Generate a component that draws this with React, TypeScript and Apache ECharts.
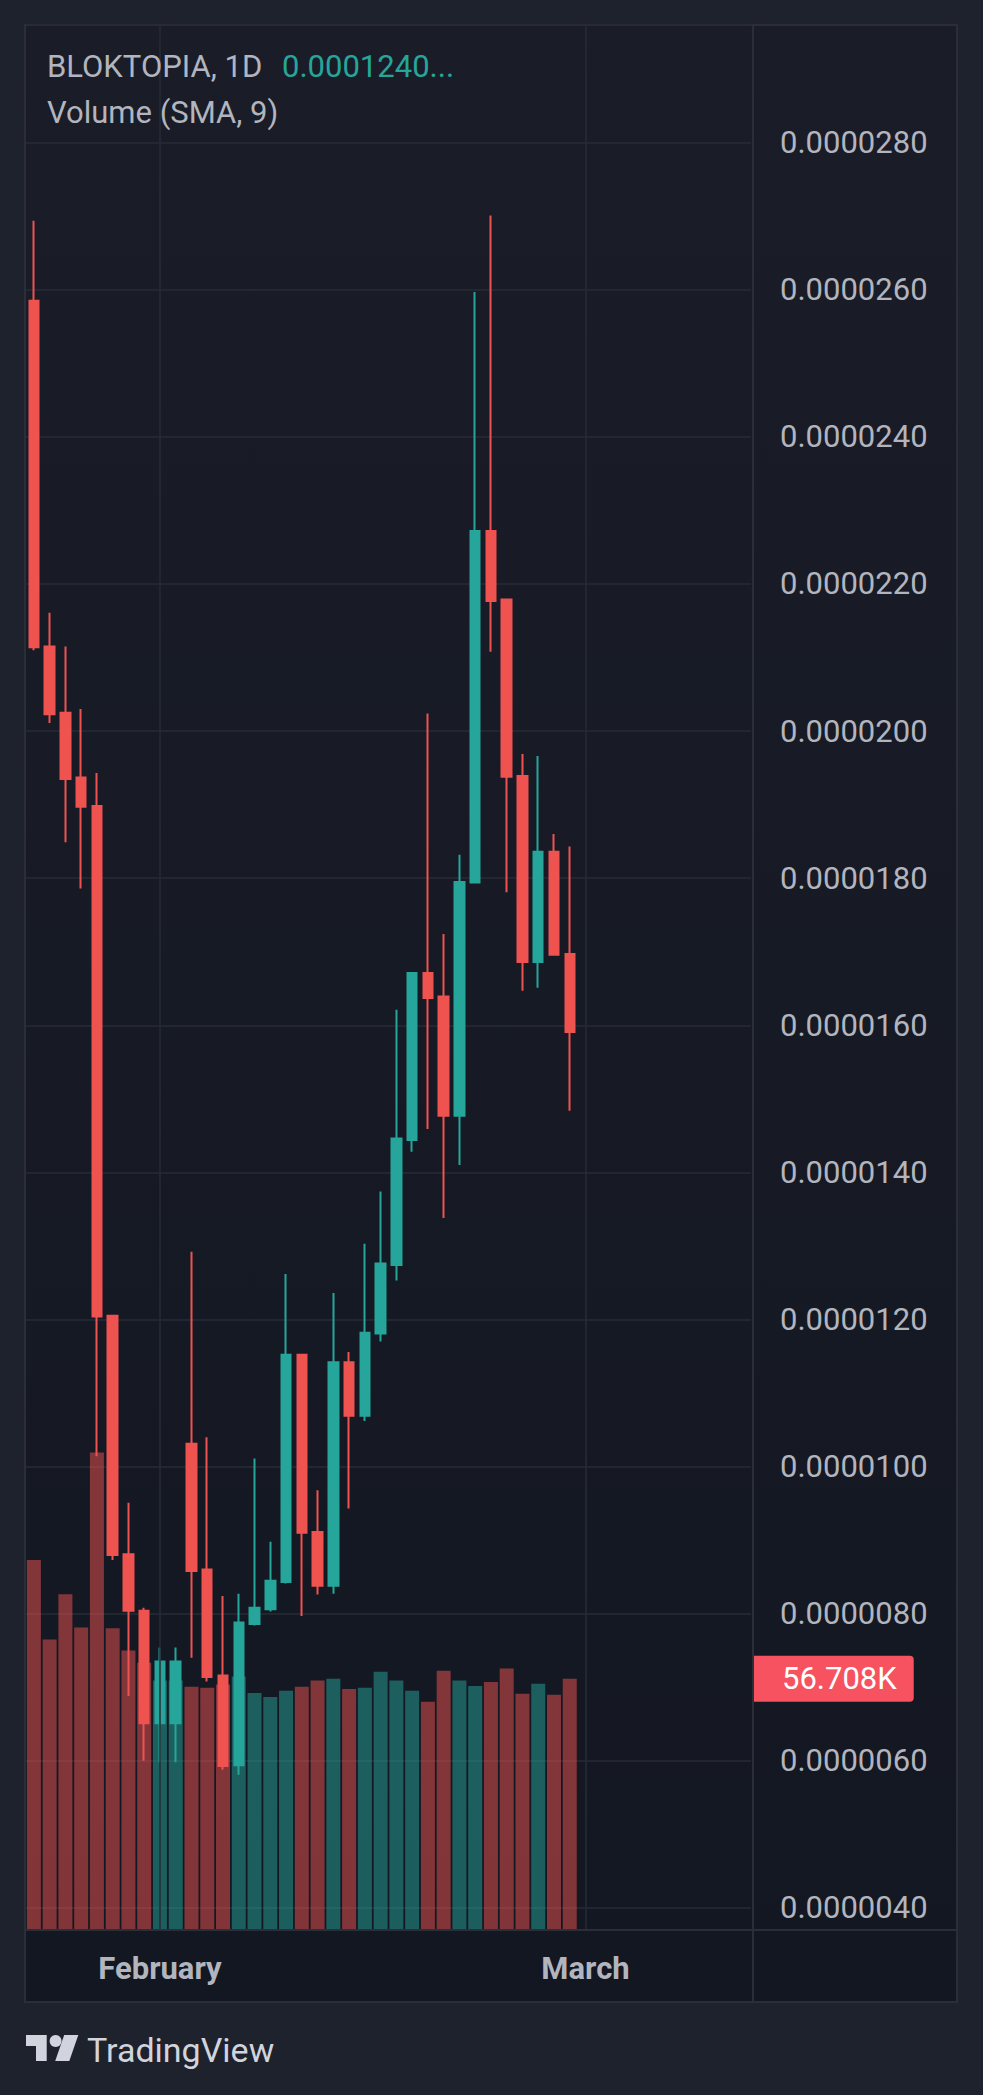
import React, { useEffect, useRef } from "react";
import * as echarts from "echarts";

// Daily candles (BLOKTOPIA, 1D) plus empty future slots on the right
const dates = [
  "Jan 24", "Jan 25", "Jan 26", "Jan 27", "Jan 28", "Jan 29", "Jan 30", "Jan 31",
  "Feb 1", "Feb 2", "Feb 3", "Feb 4", "Feb 5", "Feb 6", "Feb 7", "Feb 8", "Feb 9",
  "Feb 10", "Feb 11", "Feb 12", "Feb 13", "Feb 14", "Feb 15", "Feb 16", "Feb 17",
  "Feb 18", "Feb 19", "Feb 20", "Feb 21", "Feb 22", "Feb 23", "Feb 24", "Feb 25",
  "Feb 26", "Feb 27",
  "Mar 1", "Mar 2", "Mar 3", "Mar 4", "Mar 5", "Mar 6", "Mar 7", "Mar 8", "Mar 9",
  "Mar 10", "Mar 11",
];

const open = [
  258.5e-7, 211.5e-7, 202.5e-7, 193.7e-7, 189.8e-7, 120.5e-7, 88.1e-7, 80.4e-7,
  65.1e-7, 65.1e-7, 103.1e-7, 86.0e-7, 71.6e-7, 59.4e-7, 78.6e-7, 80.6e-7,
  84.3e-7, 115.2e-7, 91.1e-7, 83.8e-7, 114.2e-7, 106.9e-7, 118.1e-7, 127.4e-7,
  144.4e-7, 167.1e-7, 163.9e-7, 147.7e-7, 179.4e-7, 227.2e-7, 217.9e-7, 193.9e-7,
  168.6e-7, 183.6e-7, 169.7e-7,
];
const close = [
  211.4e-7, 202.3e-7, 193.5e-7, 189.7e-7, 120.4e-7, 88.0e-7, 80.4e-7, 65.1e-7,
  73.5e-7, 73.5e-7, 85.8e-7, 71.4e-7, 59.3e-7, 78.8e-7, 80.8e-7, 84.5e-7,
  115.2e-7, 91.0e-7, 83.8e-7, 114.2e-7, 106.9e-7, 118.2e-7, 127.6e-7, 144.6e-7,
  167.1e-7, 163.7e-7, 147.7e-7, 179.5e-7, 227.2e-7, 217.7e-7, 193.8e-7, 168.6e-7,
  183.6e-7, 169.6e-7, 159.1e-7,
];
const low = [
  211.0e-7, 201.1e-7, 184.9e-7, 178.6e-7, 101.4e-7, 87.3e-7, 68.8e-7, 60.0e-7,
  59.8e-7, 59.8e-7, 74.0e-7, 70.8e-7, 58.8e-7, 58.1e-7, 78.4e-7, 80.3e-7,
  84.1e-7, 79.7e-7, 82.6e-7, 82.7e-7, 94.3e-7, 106.2e-7, 117.0e-7, 125.3e-7,
  142.8e-7, 145.9e-7, 133.8e-7, 141.0e-7, 179.4e-7, 210.8e-7, 178.1e-7, 164.7e-7,
  165.1e-7, 169.6e-7, 148.4e-7,
];
const high = [
  269.4e-7, 216.1e-7, 211.5e-7, 203.0e-7, 194.3e-7, 120.5e-7, 95.1e-7, 80.8e-7,
  75.4e-7, 75.4e-7, 129.2e-7, 104.0e-7, 82.4e-7, 82.7e-7, 101.1e-7, 89.8e-7,
  126.2e-7, 115.2e-7, 96.8e-7, 123.6e-7, 115.6e-7, 130.3e-7, 137.4e-7, 162.1e-7,
  167.1e-7, 202.4e-7, 172.4e-7, 183.2e-7, 259.7e-7, 270.1e-7, 217.9e-7, 196.9e-7,
  196.6e-7, 186.0e-7, 184.3e-7,
];
const volume = [
  83500, 65600, 75800, 68300, 107800, 68100, 63100, 60300, 56300, 56300, 54900,
  54700, 55400, 57200, 53500, 52600, 54000, 54900, 56300, 56700, 54400, 54700,
  58300, 56300, 54000, 51500, 58500, 56300, 55100, 56000, 59000, 53300, 55600,
  53100, 56708,
];

const monthLabels: Record<string, string> = { "Feb 1": "February", "Mar 1": "March" };

const UP = "#26a69a";
const DOWN = "#ef5350";
const UP_VOL = "rgba(38,166,154,0.5)";
const DOWN_VOL = "rgba(239,83,80,0.5)";
const GRID = "#272b37";
const BORDER = "#2a2e39";
const TEXT = "#b2b5be";
const FONT = "Roboto, 'Noto Sans', sans-serif";

export default function App() {
  const ref = useRef<HTMLDivElement>(null);

  useEffect(() => {
    if (!ref.current) return;
    const chart = echarts.init(ref.current, null, { renderer: "svg" });

    const candleData = open.map((o, i) => [o, close[i], low[i], high[i]]);
    const volData = volume.map((v, i) => ({
      value: v,
      itemStyle: { color: close[i] >= open[i] ? UP_VOL : DOWN_VOL },
    }));
    const lastVol = volume[volume.length - 1];

    chart.setOption({
      animation: false,
      backgroundColor: "#1e222d",
      grid: {
        left: 26,
        top: 25,
        width: 725,
        height: 1905,
        containLabel: false,
        outerBoundsMode: "none",
      },
      xAxis: {
        type: "category",
        data: dates,
        boundaryGap: true,
        axisLine: { show: false },
        axisTick: { show: false },
        splitLine: { show: false },
        axisLabel: {
          interval: (_i: number, v: string) => v in monthLabels,
          formatter: (v: string) => monthLabels[v] ?? "",
          color: TEXT,
          fontSize: 31,
          fontWeight: "bold",
          fontFamily: FONT,
          margin: 38,
          verticalAlign: "middle",
          hideOverlap: false,
        },
      },
      yAxis: [
        {
          type: "value",
          position: "right",
          min: 37e-7,
          max: 296e-7,
          splitNumber: 13,
          axisLine: { show: false },
          axisTick: { show: false },
          splitLine: { show: true, lineStyle: { color: GRID, width: 1.5 } },
          axisLabel: {
            color: TEXT,
            fontSize: 31,
            fontFamily: FONT,
            margin: 29,
            align: "left",
            showMinLabel: false,
            showMaxLabel: false,
            formatter: (v: number) => v.toFixed(7),
          },
        },
        {
          type: "value",
          show: false,
          min: 0,
          max: 430000,
          splitLine: { show: false },
        },
      ],
      series: [
        {
          type: "bar",
          name: "Volume",
          yAxisIndex: 1,
          data: volData,
          barWidth: 14,
          silent: true,
          markLine: {
            silent: true,
            symbol: ["none", "none"],
            lineStyle: { color: "rgba(0,0,0,0)", width: 1, type: "solid" },
            label: {
              show: true,
              position: "end",
              distance: 2,
              formatter: () => (lastVol / 1000).toFixed(3) + "K",
              color: "#ffffff",
              fontSize: 31,
              fontFamily: FONT,
              backgroundColor: "#f7525f",
              borderRadius: [0, 4, 4, 0],
              padding: [7, 17, 7, 29],
              lineHeight: 32,
            },
            data: [{ yAxis: lastVol }],
          },
        },
        {
          type: "candlestick",
          name: "BLOKTOPIA",
          data: candleData,
          barWidth: 10,
          itemStyle: {
            color: UP,
            color0: DOWN,
            borderColor: UP,
            borderColor0: DOWN,
            borderWidth: 2,
          },
          markLine: {
            silent: true,
            symbol: ["none", "none"],
            label: { show: false },
            lineStyle: { color: GRID, width: 1.5, type: "solid" },
            data: Object.keys(monthLabels).map((d) => ({ xAxis: d })),
          },
        },
      ],
      graphic: [
        {
          type: "rect",
          z: -10,
          silent: true,
          shape: { x: 25, y: 25, width: 932, height: 1977 },
          style: {
            fill: {
              type: "linear",
              x: 0,
              y: 0,
              x2: 0,
              y2: 1,
              colorStops: [
                { offset: 0, color: "#1a1d28" },
                { offset: 1, color: "#131722" },
              ],
            },
            stroke: BORDER,
            lineWidth: 2,
          },
        },
        {
          type: "line",
          z: 10,
          silent: true,
          shape: { x1: 753, y1: 25, x2: 753, y2: 2002 },
          style: { stroke: BORDER, lineWidth: 2 },
        },
        {
          type: "line",
          z: 10,
          silent: true,
          shape: { x1: 25, y1: 1930, x2: 957, y2: 1930 },
          style: { stroke: BORDER, lineWidth: 2 },
        },
        {
          type: "text",
          z: 10,
          x: 47,
          y: 66,
          style: {
            text: "BLOKTOPIA, 1D",
            fill: TEXT,
            fontSize: 31,
            fontFamily: FONT,
            align: "left",
            verticalAlign: "middle",
          },
        },
        {
          type: "text",
          z: 10,
          x: 282,
          y: 66,
          style: {
            text: "0.0001240...",
            fill: UP,
            fontSize: 31,
            fontFamily: FONT,
            align: "left",
            verticalAlign: "middle",
          },
        },
        {
          type: "text",
          z: 10,
          x: 47,
          y: 112,
          style: {
            text: "Volume (SMA, 9)",
            fill: TEXT,
            fontSize: 31,
            fontFamily: FONT,
            align: "left",
            verticalAlign: "middle",
          },
        },
        {
          type: "polygon",
          z: 10,
          silent: true,
          shape: {
            points: [
              [26, 2035], [46.7, 2035], [46.7, 2061], [36, 2061], [36, 2046], [26, 2046],
            ],
          },
          style: { fill: "#d1d4dc" },
        },
        {
          type: "circle",
          z: 10,
          silent: true,
          shape: { cx: 55.6, cy: 2041, r: 6 },
          style: { fill: "#d1d4dc" },
        },
        {
          type: "polygon",
          z: 10,
          silent: true,
          shape: {
            points: [[64.2, 2035], [78.3, 2035], [69.3, 2061], [55.2, 2061]],
          },
          style: { fill: "#d1d4dc" },
        },
        {
          type: "text",
          z: 10,
          x: 87,
          y: 2050,
          style: {
            text: "TradingView",
            fill: "#d1d4dc",
            fontSize: 34,
            fontFamily: FONT,
            align: "left",
            verticalAlign: "middle",
          },
        },
      ],
    });

    return () => chart.dispose();
  }, []);

  return (
    <div
      ref={ref}
      style={{ position: "absolute", left: 0, top: 0, width: 983, height: 2095 }}
    />
  );
}
